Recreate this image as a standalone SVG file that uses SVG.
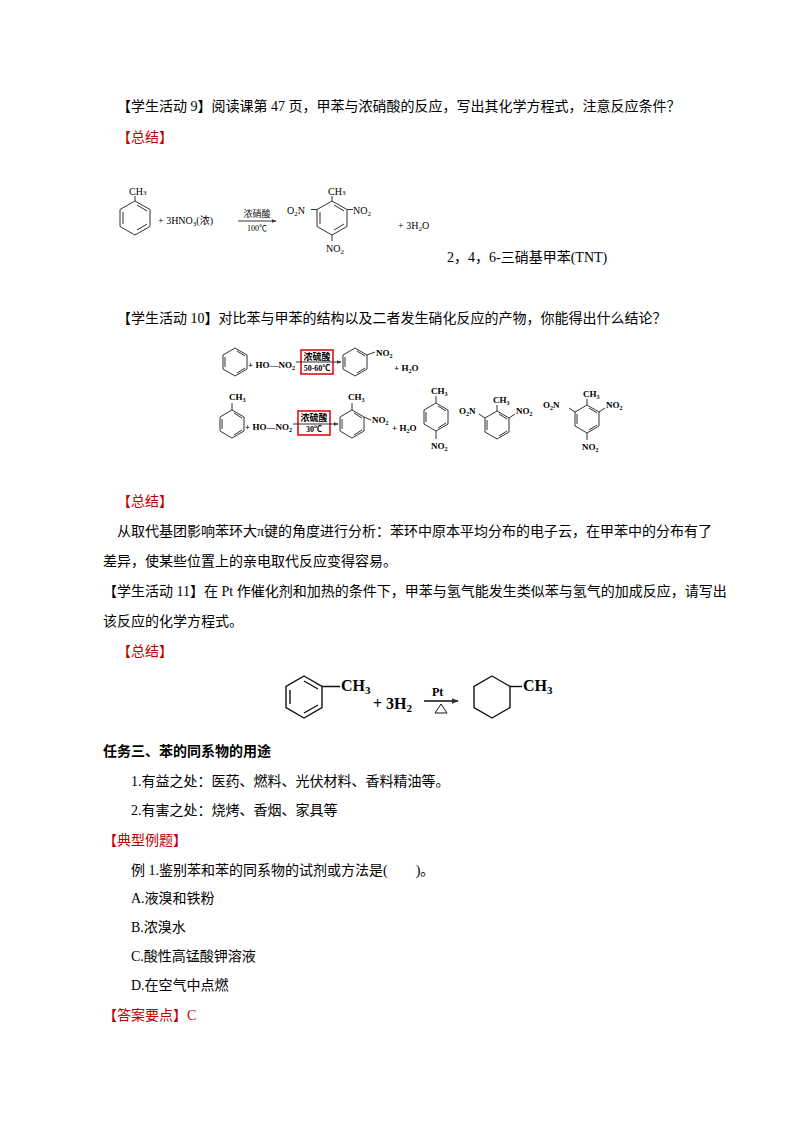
<svg xmlns="http://www.w3.org/2000/svg" width="800" height="1132" viewBox="0 0 800 1132">
<style>
text{font-family:"Liberation Serif","Noto Sans CJK SC",serif;font-size:14px;fill:#000}
.r{fill:#c00000}
.s{font-size:10px}
.b{font-weight:bold;font-size:9px}
.bb{font-weight:bold;font-size:16px}
.h{font-weight:bold}
.ln{stroke:#333;stroke-width:1;fill:none}
.ln2{stroke:#111;stroke-width:1.4;fill:none}
</style>
<defs>
<marker id="a" viewBox="0 0 10 10" refX="9" refY="5" markerWidth="5" markerHeight="5" orient="auto"><path d="M0,1L10,5L0,9z" fill="#333"/></marker>
</defs>
<rect width="800" height="1132" fill="#fff"/>
<text x="117" y="111">【学生活动 9】阅读课第 47 页，甲苯与浓硝酸的反应，写出其化学方程式，注意反应条件？</text>
<text x="117" y="142" class="r">【总结】</text>
<g id="rxn1">
<polygon class="ln" points="135,201 150,209.5 150,226.5 135,235 120,226.5 120,209.5"/>
<path class="ln" d="M137,205L147,211M147,224L137,230M123,224V212M135,201L135,196"/>
<text x="129" y="195" class="s">CH<tspan font-size="7">3</tspan></text>
<text x="158" y="224" class="s">+  3HNO<tspan font-size="7" dy="2">3</tspan><tspan dy="-2">(浓)</tspan></text>
<path class="ln" d="M238,221H276" marker-end="url(#a)"/>
<text x="257" y="217" style="font-size:9px" text-anchor="middle">浓硝酸</text>
<text x="257" y="231" style="font-size:8px" text-anchor="middle">100℃</text>
<polygon class="ln" points="332,201 347,209.5 347,226.5 332,235 317,226.5 317,209.5"/>
<path class="ln" d="M334,205L344,211M344,224L334,230M320,224V212M332,201V196M347,209.5H353M317,209.5H311M332,235V241"/>
<text x="328" y="195" class="s">CH<tspan font-size="7">3</tspan></text>
<text x="353" y="214" class="s">NO<tspan font-size="7" dy="2">2</tspan></text>
<text x="287" y="214" class="s">O<tspan font-size="7" dy="2">2</tspan><tspan dy="-2">N</tspan></text>
<text x="326" y="252" class="s">NO<tspan font-size="7" dy="2">2</tspan></text>
<text x="398" y="229" class="s">+  3H<tspan font-size="7" dy="2">2</tspan><tspan dy="-2">O</tspan></text>
<text x="447" y="262">2，4，6-三硝基甲苯(TNT)</text>
</g>
<text x="117" y="323">【学生活动 10】对比苯与甲苯的结构以及二者发生硝化反应的产物，你能得出什么结论？</text>
<g id="rxn2">
<polygon class="ln" points="235,348 247,355 247,369 235,376 223,369 223,355"/>
<path class="ln" d="M237,351L245,356M245,368L237,373M225,367V357"/>
<text x="248" y="368" class="b">+ HO—NO<tspan font-size="6" dy="2">2</tspan></text>
<rect x="301" y="350" width="32" height="24" fill="none" stroke="#d00" stroke-width="1.5"/>
<text x="317" y="360" class="b" text-anchor="middle">浓硫酸</text>
<text x="317" y="371" class="b" style="font-size:8px" text-anchor="middle">50-60℃</text>
<path class="ln" d="M296,362H341" marker-end="url(#a)"/>
<polygon class="ln" points="355,348 367,355 367,369 355,376 343,369 343,355"/>
<path class="ln" d="M357,351L365,356M365,368L357,373M345,367V357M367,355L375,352"/>
<text x="376" y="356" class="b">NO<tspan font-size="6" dy="2">2</tspan></text>
<text x="394" y="371" class="b">+ H<tspan font-size="6" dy="2">2</tspan><tspan dy="-2">O</tspan></text>

<polygon class="ln" points="232,410 244,417 244,431 232,438 220,431 220,417"/>
<path class="ln" d="M234,413L242,418M242,430L234,435M222,429V419M232,410V403"/>
<text x="229" y="400" class="b">CH<tspan font-size="6" dy="2">3</tspan></text>
<text x="245" y="430" class="b">+ HO—NO<tspan font-size="6" dy="2">2</tspan></text>
<rect x="298" y="411" width="32" height="24" fill="none" stroke="#d00" stroke-width="1.5"/>
<text x="314" y="421" class="b" text-anchor="middle">浓硫酸</text>
<text x="314" y="432" class="b" style="font-size:8px" text-anchor="middle">30℃</text>
<path class="ln" d="M293,424H338" marker-end="url(#a)"/>
<polygon class="ln" points="352,410 364,417 364,431 352,438 340,431 340,417"/>
<path class="ln" d="M354,413L362,418M362,430L354,435M342,429V419M352,410V403M364,417L371,420"/>
<text x="348" y="400" class="b">CH<tspan font-size="6" dy="2">3</tspan></text>
<text x="372" y="423" class="b">NO<tspan font-size="6" dy="2">2</tspan></text>
<text x="392" y="431" class="b">+ H<tspan font-size="6" dy="2">2</tspan><tspan dy="-2">O</tspan></text>

<polygon class="ln" points="436,403 448,410 448,424 436,431 424,424 424,410"/>
<path class="ln" d="M438,406L446,411M446,423L438,428M426,422V412M436,403V396M436,431V439"/>
<text x="431" y="394" class="b">CH<tspan font-size="6" dy="2">3</tspan></text>
<text x="431" y="449" class="b">NO<tspan font-size="6" dy="2">2</tspan></text>

<polygon class="ln" points="497,411 509,418 509,432 497,439 485,432 485,418"/>
<path class="ln" d="M499,414L507,419M507,431L499,436M487,430V420M497,411V405M509,418L515,414M485,418L479,414"/>
<text x="493" y="403" class="b">CH<tspan font-size="6" dy="2">3</tspan></text>
<text x="459" y="414" class="b">O<tspan font-size="6" dy="2">2</tspan><tspan dy="-2">N</tspan></text>
<text x="516" y="414" class="b">NO<tspan font-size="6" dy="2">2</tspan></text>

<polygon class="ln" points="587,405 599,412 599,426 587,433 575,426 575,412"/>
<path class="ln" d="M589,408L597,413M597,425L589,430M577,424V414M587,405V399M599,412L605,408M575,412L569,408M587,433V440"/>
<text x="583" y="397" class="b">CH<tspan font-size="6" dy="2">3</tspan></text>
<text x="543" y="408" class="b">O<tspan font-size="6" dy="2">2</tspan><tspan dy="-2">N</tspan></text>
<text x="606" y="408" class="b">NO<tspan font-size="6" dy="2">2</tspan></text>
<text x="582" y="450" class="b">NO<tspan font-size="6" dy="2">2</tspan></text>
</g>
<text x="117" y="506" class="r">【总结】</text>
<text x="117" y="536">从取代基团影响苯环大π键的角度进行分析：苯环中原本平均分布的电子云，在甲苯中的分布有了</text>
<text x="103" y="566">差异，使某些位置上的亲电取代反应变得容易。</text>
<text x="103" y="596">【学生活动 11】在 Pt 作催化剂和加热的条件下，甲苯与氢气能发生类似苯与氢气的加成反应，请写出</text>
<text x="103" y="626">该反应的化学方程式。</text>
<text x="117" y="656" class="r">【总结】</text>
<g id="rxn3">
<polygon class="ln2" points="304,676 322,686.5 322,707.5 304,718 286,707.5 286,686.5"/>
<path class="ln2" d="M304,681L318,689M318,705L304,713M290,704V690M322,686.5H340"/>
<text x="341" y="691" class="bb">CH<tspan font-size="11" dy="3">3</tspan></text>
<text x="373" y="709" class="bb">+ 3H<tspan font-size="11" dy="3">2</tspan></text>
<path class="ln2" d="M424,701H458" marker-end="url(#a)"/>
<text x="432" y="696" class="h" style="font-size:12px">Pt</text>
<polygon points="435,713 441,704 447,713" fill="none" stroke="#111" stroke-width="1"/>
<polygon class="ln2" points="492,676 510,686.5 510,707.5 492,718 474,707.5 474,686.5"/>
<path class="ln2" d="M510,686.5H522"/>
<text x="523" y="691" class="bb">CH<tspan font-size="11" dy="3">3</tspan></text>
</g>
<text x="103" y="756" class="h">任务三、苯的同系物的用途</text>
<text x="131" y="786">1.有益之处：医药、燃料、光伏材料、香料精油等。</text>
<text x="131" y="815">2.有害之处：烧烤、香烟、家具等</text>
<text x="103" y="845" class="r">【典型例题】</text>
<text x="131" y="875">例 1.鉴别苯和苯的同系物的试剂或方法是(　　)。</text>
<text x="131" y="903">A.液溴和铁粉</text>
<text x="131" y="932">B.浓溴水</text>
<text x="131" y="961">C.酸性高锰酸钾溶液</text>
<text x="131" y="990">D.在空气中点燃</text>
<text x="103" y="1020" class="r">【答案要点】C</text>
</svg>
